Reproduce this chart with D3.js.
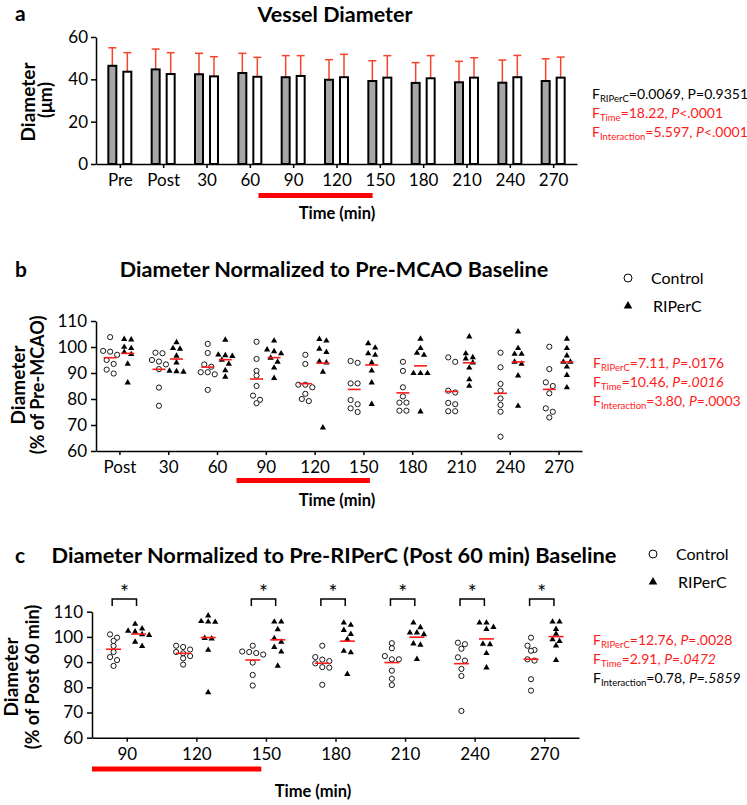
<!DOCTYPE html>
<html><head><meta charset="utf-8">
<script src="https://cdn.jsdelivr.net/npm/d3@7"></script>
<style>
body{margin:0;background:#fff}
svg text{font-family:Lato,"Open Sans",sans-serif}
</style></head><body><svg id="chart" width="747" height="805"></svg>
<script>
// panel a: vessel diameter, mean + SD (um)
const timesA=['Pre','Post','30','60','90','120','150','180','210','240','270'];
const grayMean=[46.4,44.7,42.4,43.0,41.0,39.8,39.2,38.3,38.6,38.4,39.2];
const graySD=[8.5,9.6,9.9,9.3,10.2,9.5,9.6,9.6,9.9,10.7,10.5];
const whiteMean=[43.6,42.5,41.4,41.2,41.6,41.0,40.8,40.5,40.8,41.0,40.8];
const whiteSD=[9.0,10.1,9.3,9.2,9.6,10.8,10.4,10.7,9.4,10.3,9.7];
const ticksA=[0,20,40,60];

// panel b: % of pre-MCAO
const timesB=['Post','30','60','90','120','150','180','210','240','270'];
const ctrlB=[
 [103.8,98.5,98.2,97,95,93.5,91.3,89.8],
 [97.6,97.8,95,94.4,93.3,91.5,84.4,77.4],
 [101.2,97.7,93.3,92.4,90.3,90.3,89.5,83.5],
 [102,95.4,90.8,89,85,81.3,79.7,78.4],
 [97,93.5,85.5,85.5,84.5,82,80,79.2],
 [94.6,93.9,86,86,79.6,78,76.4,75],
 [94.3,90.8,84.5,81,78.6,78.6,75.5,75.5],
 [96,94.3,83.2,82.5,78.5,78,75.3,75.3],
 [97.8,92.2,85.8,83.2,80.2,77.7,75.1,65.5],
 [100.1,91.5,86.4,85,82.2,76.4,75.1,72.9]];
const ripB=[
 [103,102.8,100,99.5,98,97.2,93.5,86.3],
 [101.8,99.5,99.3,96.6,94,90.8,90.6,90.4],
 [102.7,97,96.8,96.5,95,93.5,91,88.5],
 [102.4,99,98.3,97.5,95.8,94.3,92,88],
 [103,102.4,99.3,98,94.4,94,90.4,69],
 [101.4,99.7,97.5,96.9,94,90.9,86.3,78],
 [103.1,99.5,97.7,96.9,89.9,89.9,89.9,75.1],
 [104,97.5,96,95.5,94,92,87.5,85],
 [105.9,99.5,97.3,97.3,94.3,93.5,89,77.3],
 [103.1,99.5,96.7,94.3,94.3,92.4,89.2,84.4]];

// panel c: % of post 60 min
const timesC=['90','120','150','180','210','240','270'];
const ctrlC=[
 [101,99.7,98.4,96.4,94,92,90.8,88.5],
 [96.5,96,95,94,93.5,92.4,91.5,89],
 [96.5,94.2,94,93.6,93,89.8,84.9,80.7],
 [96.5,92,91,90.4,89.5,88,87.8,81],
 [97.5,95.5,92.4,91.1,91.1,86.6,83.4,80.9],
 [97.7,97.1,95.3,91.9,90.6,87.3,84.5,70.6],
 [99.7,96.5,94.8,94.5,91.1,90.6,83.2,78.7]];
const ripC=[
 [105.1,103.3,102.4,102.1,101,100.7,98,96.3],
 [108.4,106.2,106,105.9,99.5,99.3,94.8,78],
 [106,106,103,99.4,98,95.9,94.1,88.5],
 [105.6,104.7,102.7,101.1,99,94.4,93.8,85.2],
 [105.6,103.8,101.7,101.7,101,97.3,96.8,91.2],
 [105.6,105.6,103.9,103.1,97.2,97,93.5,87.8],
 [106,106,103.1,99,101.2,98.3,96.5,90.8]];
const sigC=[1,0,1,1,1,1,1];
const ticksPct=[60,70,80,90,100,110];

// RIPerC window (min)
const windowA=[66,145], windowB=[72,154], windowC=[75,148];

const RED='#ff1a1a', ERR='#f4442e', BLK='#000';
const statsA=[
 {c:BLK,p:[['F'],['RIPerC','s'],['=0.0069, P=0.9351']]},
 {c:RED,p:[['F'],['Time','s'],['=18.22, '],['P','i'],['<.0001']]},
 {c:RED,p:[['F'],['Interaction','s'],['=5.597, '],['P','i'],['<.0001']]}];
const statsB=[
 {c:RED,p:[['F'],['RIPerC','s'],['=7.11, '],['P','i'],['=.0176']]},
 {c:RED,p:[['F'],['Time','s'],['=10.46, '],['P=.0016','i']]},
 {c:RED,p:[['F'],['Interaction','s'],['=3.80, '],['P','i'],['=.0003']]}];
const statsC=[
 {c:RED,p:[['F'],['RIPerC','s'],['=12.76, '],['P','i'],['=.0028']]},
 {c:RED,p:[['F'],['Time','s'],['=2.91, '],['P=.0472','i']]},
 {c:BLK,p:[['F'],['Interaction','s'],['=0.78, '],['P=.5859','i']]}];

const svg=d3.select('#chart');

function styleAxis(g){
  g.attr('font-family','Lato').attr('font-size',17);
  g.selectAll('path,line').attr('stroke','#000').attr('stroke-width',1.5);
  g.selectAll('text').attr('fill','#000');
}
function pos(x,t){ const base=x.domain().find(d=>!isNaN(+d)); return x(base)+(t-(+base))/30*x.step(); }
function txt(x,y,s,size,bold,anchor){
  return svg.append('text').attr('x',x).attr('y',y).text(s).attr('font-size',size)
    .attr('font-weight',bold?'bold':null).attr('text-anchor',anchor||'start');
}
function ylabel(x,y,s,size){ svg.append('text').attr('transform',`translate(${x},${y}) rotate(-90)`).attr('text-anchor','middle').attr('font-size',size||18).attr('font-weight','bold').text(s); }
function stats(x,y0,lines){
  lines.forEach((l,i)=>{
    const t=svg.append('text').attr('x',x).attr('y',y0+i*19).attr('font-size',14).attr('fill',l.c);
    let low=false;
    l.p.forEach(([s,k])=>{
      const sp=t.append('tspan').text(s);
      if(k==='s'){ sp.attr('font-size',9.5).attr('dy',3); low=true; }
      else { if(low){ sp.attr('dy',-3); low=false; } if(k==='i') sp.attr('font-style','italic'); }
    });
  });
}
function swarm(vals,y,d,thr){
  const pts=vals.map(v=>({v,y:y(v)})).sort((a,b)=>a.y-b.y), rows=[];
  pts.forEach(p=>{ const r=rows[rows.length-1]; if(r&&p.y-r[0].y<thr) r.push(p); else rows.push([p]); });
  rows.forEach(r=>r.forEach((p,i)=>p.dx=(i-(r.length-1)/2)*d));
  return pts;
}
function legend(x,y){
  svg.append('circle').attr('cx',x).attr('cy',y).attr('r',4).attr('fill','#fff').attr('stroke','#000').attr('stroke-width',1);
  svg.append('path').attr('d',d3.symbol(d3.symbolTriangle,32)()).attr('transform',`translate(${x},${y+28})`).attr('fill','#000');
  svg.append('text').attr('x',x+23).attr('y',y+6).attr('font-family','Liberation Sans').attr('font-size',16).text('Control');
  svg.append('text').attr('x',x+25).attr('y',y+34).attr('font-family','Liberation Sans').attr('font-size',16).text('RIPerC');
}

// ---- panel a
const xA=d3.scalePoint().domain(timesA).range([96,577]).padding(0.55);
const yA=d3.scaleLinear().domain([0,60]).range([164,37]);
txt(15,21,'a',21,true); txt(335,22,'Vessel Diameter',21.5,true,'middle');
const gA=svg.append('g');
timesA.forEach((t,i)=>{
  [[grayMean[i],graySD[i],-7.5,'#a6a6a6'],[whiteMean[i],whiteSD[i],7.5,'#fff']].forEach(([m,sd,off,fill])=>{
    const cx=xA(t)+off;
    gA.append('line').attr('x1',cx).attr('x2',cx).attr('y1',yA(m)).attr('y2',yA(m+sd)).attr('stroke',ERR).attr('stroke-width',1.5);
    gA.append('line').attr('x1',cx-4).attr('x2',cx+4).attr('y1',yA(m+sd)).attr('y2',yA(m+sd)).attr('stroke',ERR).attr('stroke-width',1.5);
    gA.append('rect').attr('x',cx-4).attr('width',8).attr('y',yA(m)).attr('height',yA(0)-yA(m)).attr('fill',fill).attr('stroke','#000').attr('stroke-width',2);
  });
});
svg.append('g').attr('transform','translate(0,164)').call(d3.axisBottom(xA).tickSize(4).tickPadding(6).tickSizeOuter(0)).call(styleAxis);
svg.append('g').attr('transform','translate(96,0)').call(d3.axisLeft(yA).tickValues(ticksA).tickSize(5).tickPadding(3).tickSizeOuter(0)).call(styleAxis);
svg.append('line').attr('x1',pos(xA,windowA[0])).attr('x2',pos(xA,windowA[1])).attr('y1',195.5).attr('y2',195.5).attr('stroke','red').attr('stroke-width',5);
txt(337,219,'Time (min)',16.5,true,'middle');
ylabel(35,102,'Diameter',19); ylabel(52,100,'(\u03bcm)',18);
stats(592,99,statsA);

// ---- scatter panels
function scatter(o){
  const x=d3.scalePoint().domain(o.times).range(o.xr).padding(o.pad);
  const y=d3.scaleLinear().domain([60,110]).range(o.yr);
  const st=x.step(), g=svg.append('g');
  o.times.forEach((t,i)=>{
    [[o.ctrl[i],-0.19,'c'],[o.rip[i],0.17,'r']].forEach(([vals,f,k])=>{
      const cx=x(t)+f*st;
      swarm(vals,y,o.d,4.6).forEach(p=>{
        if(k==='c') g.append('circle').attr('cx',cx+p.dx).attr('cy',p.y).attr('r',2.6).attr('fill','#fff').attr('stroke','#000').attr('stroke-width',0.9);
        else g.append('path').attr('d',d3.symbol(d3.symbolTriangle,17)()).attr('transform',`translate(${cx+p.dx},${p.y})`).attr('fill','#000');
      });
      const m=d3.mean(vals);
      g.append('line').attr('x1',cx-o.mw).attr('x2',cx+o.mw).attr('y1',y(m)).attr('y2',y(m)).attr('stroke',RED).attr('stroke-width',1.6);
    });
    if(o.sig&&o.sig[i]){
      const x0=x(t)-0.21*st, x1=x(t)+0.14*st, yb=o.sigY;
      g.append('path').attr('d',`M${x0},${yb+7}V${yb}H${x1}V${yb+7}`).attr('fill','none').attr('stroke','#000').attr('stroke-width',1.5);
      g.append('text').attr('x',(x0+x1)/2).attr('y',yb+1).attr('text-anchor','middle').attr('font-size',21).text('*');
    }
  });
  svg.append('g').attr('transform',`translate(0,${o.yr[0]})`).call(d3.axisBottom(x).tickSize(4).tickPadding(6).tickSizeOuter(0)).call(styleAxis);
  svg.append('g').attr('transform',`translate(${o.xr[0]},0)`).call(d3.axisLeft(y).tickValues(ticksPct).tickSize(5).tickPadding(4).tickSizeOuter(0)).call(styleAxis);
  svg.append('line').attr('x1',pos(x,o.win[0])).attr('x2',pos(x,o.win[1])).attr('y1',o.barY).attr('y2',o.barY).attr('stroke','red').attr('stroke-width',5);
}

// ---- panel b
txt(15,277,'b',21,true); txt(334,277,'Diameter Normalized to Pre-MCAO Baseline',21.6,true,'middle');
legend(628,278);
scatter({times:timesB,ctrl:ctrlB,rip:ripB,xr:[96,582],pad:0.48,yr:[451,321],d:7,mw:6.5,win:windowB,barY:480.5});
txt(337,506,'Time (min)',16.5,true,'middle');
ylabel(25,385,'Diameter',19); ylabel(44,385,'(% of Pre-MCAO)',18);
stats(593,368,statsB);

// ---- panel c
txt(15,563,'c',21,true); txt(334,563,'Diameter Normalized to Pre-RIPerC (Post 60 min) Baseline',21.8,true,'middle');
legend(653,554);
scatter({times:timesC,ctrl:ctrlC,rip:ripC,xr:[92,579],pad:0.5,yr:[737.7,611.7],d:7,mw:7.5,win:windowC,barY:769,sig:sigC,sigY:599});
txt(313,797,'Time (min)',16.5,true,'middle');
ylabel(18,677,'Diameter',19); ylabel(39,677,'(% of Post 60 min)',18);
stats(593,645,statsC);
</script></body></html>
